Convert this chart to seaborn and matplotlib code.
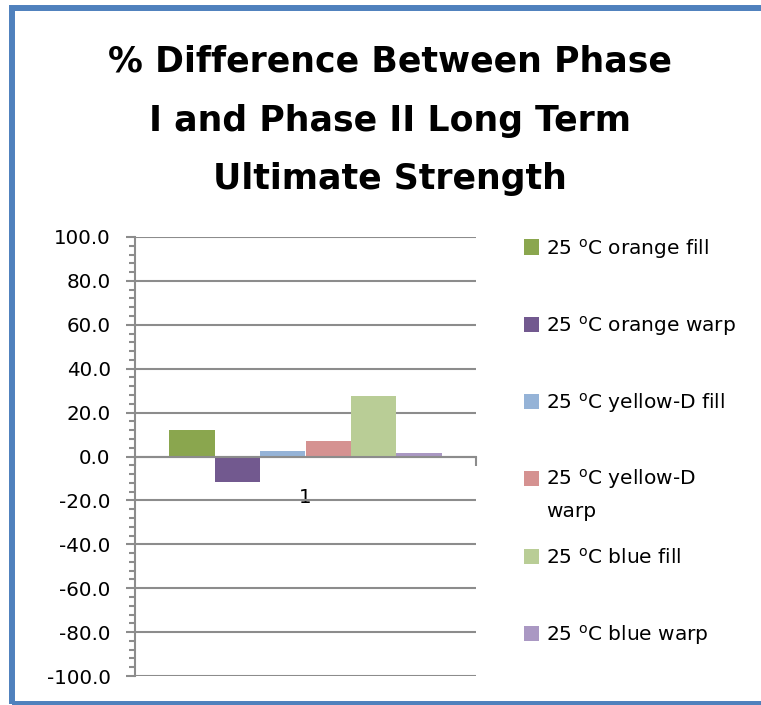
import matplotlib
matplotlib.use("Agg")
import matplotlib.pyplot as plt
from matplotlib.patches import Rectangle
from matplotlib.ticker import MultipleLocator, FormatStrFormatter, FixedLocator
import pandas as pd
import seaborn as sns

# ---- data ----
categories = ["1"]
series = ["25 $^{o}$C orange fill", "25 $^{o}$C orange warp", "25 $^{o}$C yellow-D fill",
          "25 $^{o}$C yellow-D warp", "25 $^{o}$C blue fill", "25 $^{o}$C blue warp"]
values = [12.1, -11.8, 2.7, 7.1, 27.7, 1.4]
colors = ["#8AA64E", "#72598F", "#95B3D7", "#D59291", "#B9CD96", "#AA98C3"]
yticks = [-100, -80, -60, -40, -20, 0, 20, 40, 60, 80, 100]
title_lines = ["% Difference Between Phase", "I and Phase II Long Term", "Ultimate Strength"]

df = pd.DataFrame({"category": categories * len(series), "series": series, "value": values})

sns.set_style("white")
plt.rcParams["font.family"] = ["DejaVu Sans"]
plt.rcParams["axes.unicode_minus"] = False
plt.rcParams["mathtext.default"] = "regular"

W, H = 761, 705
fig = plt.figure(figsize=(W / 100, H / 100), dpi=100)
fig.patch.set_facecolor("white")

def fx(px):
    return px / W

def fy(py):
    return 1 - py / H

ax = fig.add_axes([fx(135), fy(676), fx(476) - fx(135), fy(237) - fy(676)])

sns.barplot(data=df, x="category", y="value", hue="series", hue_order=series,
            palette=colors, width=0.8, saturation=1, legend=False,
            edgecolor="none", linewidth=0, ax=ax, zorder=3)

gray = "#8C8C8C"
ax.set_xlim(-0.5, 0.5)
ax.set_ylim(-100, 100)
ax.set_yticks(yticks)
ax.yaxis.set_minor_locator(MultipleLocator(4))
ax.yaxis.set_major_formatter(FormatStrFormatter("%.1f"))
ax.grid(axis="y", which="major", color=gray, linewidth=1.5, zorder=0)
ax.grid(axis="x", visible=False)
ax.set_axisbelow(True)
ax.set_xlabel("")
ax.set_ylabel("")

for s in ["top", "right"]:
    ax.spines[s].set_visible(False)
ax.spines["left"].set_color(gray)
ax.spines["left"].set_linewidth(1.5)
ax.spines["bottom"].set_color(gray)
ax.spines["bottom"].set_linewidth(1.5)
ax.spines["bottom"].set_position(("data", 0))
ax.spines["bottom"].set_zorder(4)

ax.tick_params(axis="y", which="major", direction="out", length=6.5, width=1.5,
               color=gray, labelsize=14.3, pad=11, labelcolor="black", left=True)
ax.tick_params(axis="y", which="minor", direction="out", length=4.3, width=1.5,
               color=gray, left=True)
ax.xaxis.set_minor_locator(FixedLocator([-0.5, 0.5]))
ax.tick_params(axis="x", which="major", length=0, labelsize=14.3, pad=23, labelcolor="black")
ax.tick_params(axis="x", which="minor", direction="out", length=6.5, width=1.5,
               color=gray, bottom=True)

# title
for i, line in enumerate(title_lines):
    fig.text(fx(390), fy(71.5 + 59 * i), line, ha="center", va="baseline",
             fontsize=25, fontweight="bold", color="black")

# legend
sq = 15
for i, (lab, col) in enumerate(zip(series, colors)):
    yc = 247 + 77.3 * i
    fig.add_artist(Rectangle((fx(524), fy(yc + sq / 2)), fx(sq), sq / H,
                             transform=fig.transFigure, facecolor=col, edgecolor="none"))
    text = lab.replace("yellow-D warp", "yellow-D\nwarp")
    if "\n" in text:
        fig.text(fx(546), fy(yc - 12), text, ha="left", va="top", fontsize=14.5,
                 color="black", linespacing=1.75)
    else:
        fig.text(fx(546), fy(yc + 7.5), text, ha="left", va="baseline", fontsize=14.5,
                 color="black")

# outer frame
fig.add_artist(Rectangle((fx(12), fy(704)), fx(800), (704 - 7.5) / H,
                         transform=fig.transFigure, facecolor="none",
                         edgecolor="#4F81BD", linewidth=4.3))

fig.savefig("out.png", dpi=100)
